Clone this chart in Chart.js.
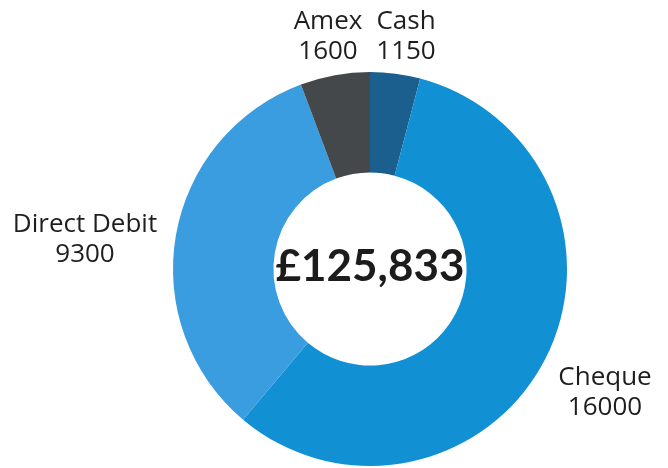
<!DOCTYPE html>
<html>
<head>
<meta charset="utf-8">
<script src="https://cdn.jsdelivr.net/npm/chart.js@4"></script>
<style>
  html, body { margin: 0; padding: 0; background: #fff; }
  #wrap { width: 668px; height: 468px; position: relative; }
</style>
</head>
<body>
<div id="wrap"><canvas id="myChart"></canvas></div>
<script>
// Data
const categories = ['Cash', 'Cheque', 'Direct Debit', 'Amex'];
const amounts = [1150, 16000, 9300, 1600];
const totalLabel = '£125,833';

const segmentColors = ['#1b5f8e', '#1190d4', '#3a9ddf', '#45484b'];

// where each outside label sits, relative to the ring centre (px)
const labelOffsets = [[36, -232], [235, 124], [-285, -29], [-42, -232]];

// Labels outside the ring plus the total in the hole
const labelPlugin = {
  id: 'labelPlugin',
  afterDatasetsDraw(chart) {
    const ctx = chart.ctx;
    const meta = chart.getDatasetMeta(0);
    const c = meta.data[0];
    ctx.save();
    ctx.fillStyle = '#1e1e1e';
    ctx.textAlign = 'center';
    ctx.textBaseline = 'middle';
    ctx.font = '26px "Open Sans", sans-serif';
    meta.data.forEach((arc, i) => {
      const x = arc.x + labelOffsets[i][0];
      const y = arc.y + labelOffsets[i][1];
      ctx.fillText(categories[i], x, y - 15);
      ctx.fillText(String(amounts[i]), x, y + 15);
    });
    ctx.fillStyle = '#1c1c1c';
    ctx.font = 'bold 44px Lato, sans-serif';
    ctx.fillText(totalLabel, c.x, c.y - 2);
    ctx.restore();
  }
};

const ctx = document.getElementById('myChart').getContext('2d');
new Chart(ctx, {
  type: 'doughnut',
  data: {
    labels: categories,
    datasets: [{
      data: amounts,
      backgroundColor: segmentColors,
      borderWidth: 0
    }]
  },
  options: {
    responsive: true,
    maintainAspectRatio: false,
    animation: false,
    cutout: '49%',
    layout: { padding: { left: 172, right: 100, top: 72, bottom: 2 } },
    plugins: {
      legend: { display: false },
      tooltip: { enabled: false }
    }
  },
  plugins: [labelPlugin]
});
</script>
</body>
</html>
